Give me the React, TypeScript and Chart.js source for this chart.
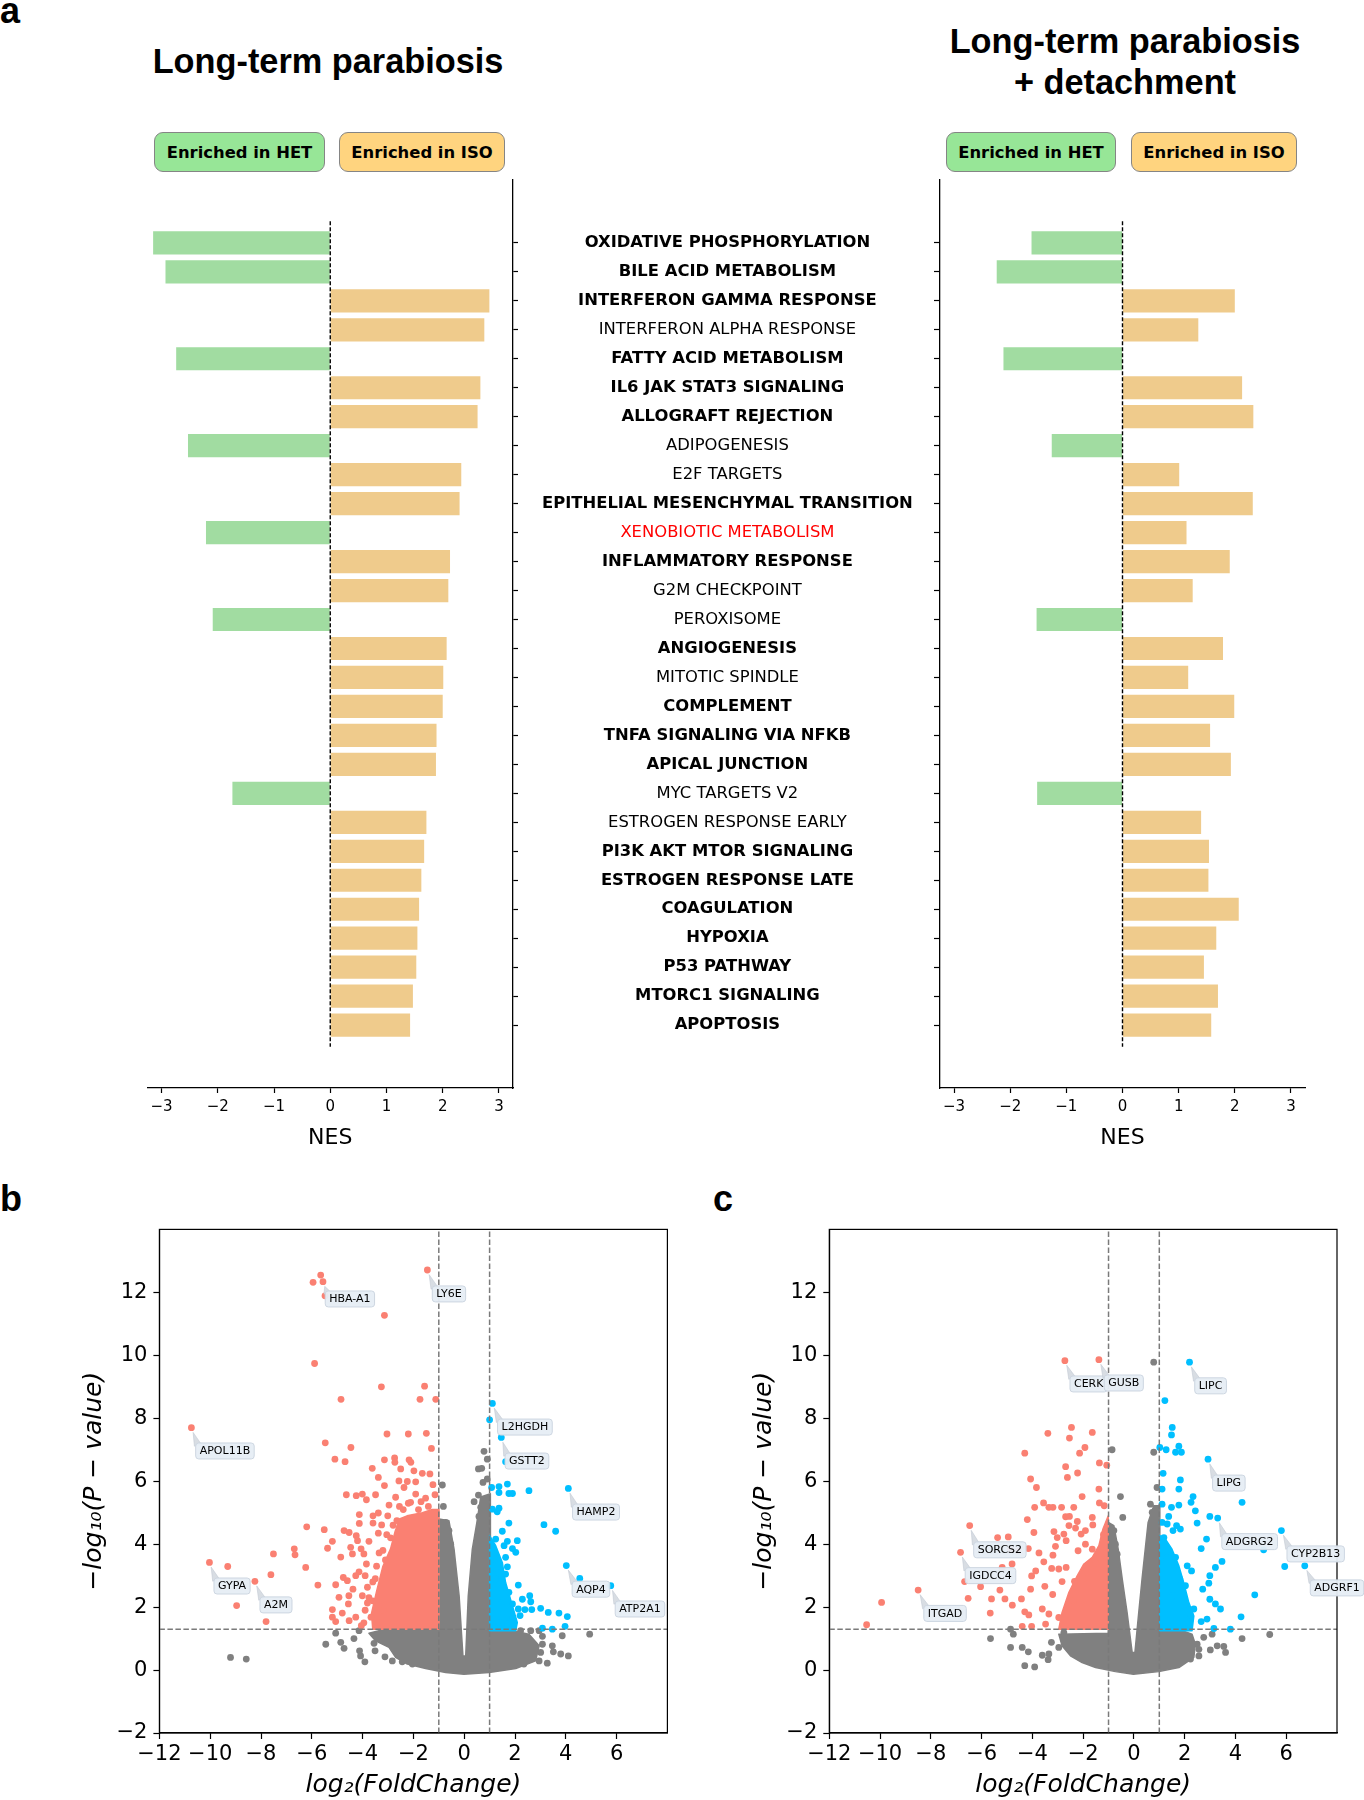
import React, { useEffect, useRef } from 'react';
import { Chart, registerables } from 'chart.js';

Chart.register(...registerables);

const SANS = "'DejaVu Sans', 'Noto Sans', sans-serif";
const HEAD = "'Liberation Sans', Arial, sans-serif";
Chart.defaults.font.family = SANS;
Chart.defaults.color = '#000';

// ---------------- Panel a: GSEA NES ----------------
const pathways = [
  'OXIDATIVE PHOSPHORYLATION', 'BILE ACID METABOLISM', 'INTERFERON GAMMA RESPONSE', 'INTERFERON ALPHA RESPONSE',
  'FATTY ACID METABOLISM', 'IL6 JAK STAT3 SIGNALING', 'ALLOGRAFT REJECTION', 'ADIPOGENESIS', 'E2F TARGETS',
  'EPITHELIAL MESENCHYMAL TRANSITION', 'XENOBIOTIC METABOLISM', 'INFLAMMATORY RESPONSE', 'G2M CHECKPOINT',
  'PEROXISOME', 'ANGIOGENESIS', 'MITOTIC SPINDLE', 'COMPLEMENT', 'TNFA SIGNALING VIA NFKB', 'APICAL JUNCTION',
  'MYC TARGETS V2', 'ESTROGEN RESPONSE EARLY', 'PI3K AKT MTOR SIGNALING', 'ESTROGEN RESPONSE LATE',
  'COAGULATION', 'HYPOXIA', 'P53 PATHWAY', 'MTORC1 SIGNALING', 'APOPTOSIS',
];
const pathwayBold = [1, 1, 1, 0, 1, 1, 1, 0, 0, 1, 0, 1, 0, 0, 1, 0, 1, 1, 1, 0, 0, 1, 1, 1, 1, 1, 1, 1];
const pathwayHighlight = ['XENOBIOTIC METABOLISM'];
const nesLongTerm = [
  -3.15, -2.93, 2.83, 2.74, -2.74, 2.67, 2.62, -2.53, 2.33, 2.30, -2.21, 2.13, 2.10, -2.09,
  2.07, 2.01, 2.00, 1.89, 1.88, -1.74, 1.71, 1.67, 1.62, 1.58, 1.55, 1.53, 1.47, 1.42,
];
const nesDetachment = [
  -1.62, -2.24, 2.00, 1.35, -2.12, 2.13, 2.33, -1.26, 1.01, 2.32, 1.14, 1.91, 1.25, -1.53,
  1.79, 1.17, 1.99, 1.56, 1.93, -1.52, 1.40, 1.54, 1.53, 2.07, 1.67, 1.45, 1.70, 1.58,
];
const nesTicks = [-3, -2, -1, 0, 1, 2, 3];
const nesRange = [-3.25, 3.25];
const rowRange = [-2.17, 29.17];
const zeroLineSpan = [-0.75, 27.75];

// ---------------- Panels b / c: volcano ----------------
const fcTicks = [-12, -10, -8, -6, -4, -2, 0, 2, 4, 6];
const pTicks = [-2, 0, 2, 4, 6, 8, 10, 12];
const fcRange = [-12, 8];
const pRange = [-2, 14];
const fcCutoffs = [-1, 1];
const pCutoff = 1.3;

const bDown = [
  [-5.65, 12.55], [-5.95, 12.32], [-5.56, 12.34], [-5.48, 11.89], [-1.45, 12.71], [-3.14, 11.27], [-5.89, 9.74],
  [-3.26, 9.0], [-1.56, 9.02], [-4.85, 8.6], [-1.74, 8.6], [-1.12, 8.6], [-10.74, 7.7], [-3.04, 7.5], [-2.2, 7.5],
  [-1.49, 7.52], [-5.47, 7.22], [-4.46, 7.07], [-1.29, 7.04], [-5.09, 6.7], [-4.69, 6.62], [-3.14, 6.68],
  [-2.74, 6.74], [-2.73, 6.6], [-2.17, 6.68], [-2.1, 6.6], [-3.62, 6.41], [-2.5, 6.39], [-1.98, 6.33],
  [-1.65, 6.25], [-1.35, 6.23], [-3.38, 6.12], [-2.57, 6.01], [-2.24, 5.99], [-1.91, 5.98], [-3.14, 5.86],
  [-2.37, 5.8], [-1.23, 5.89], [-4.64, 5.57], [-4.25, 5.54], [-4.01, 5.59], [-3.85, 5.41], [-3.49, 5.57],
  [-2.7, 5.49], [-1.91, 5.59], [-1.52, 5.46], [-1.15, 5.57], [-2.96, 5.24], [-2.11, 5.33], [-1.41, 5.2],
  [-4.13, 4.94], [-3.59, 4.9], [-3.38, 4.99], [-3.01, 4.9], [-4.13, 4.66], [-3.59, 4.67], [-3.25, 4.61],
  [-6.2, 4.55], [-5.51, 4.46], [-4.73, 4.43], [-4.53, 4.37], [-4.25, 4.27], [-3.75, 4.09], [-3.38, 4.35],
  [-5.19, 4.09], [-4.2, 4.11], [-4.47, 3.9], [-4.06, 3.85], [-6.69, 3.85], [-5.38, 3.87], [-6.66, 3.66],
  [-7.51, 3.69], [-4.86, 3.59], [-4.4, 3.69], [-3.95, 3.69], [-3.35, 3.72], [-10.03, 3.42], [-9.31, 3.29],
  [-6.24, 3.26], [-7.61, 3.03], [-8.24, 2.82], [-3.85, 3.37], [-4.14, 3.12], [-4.76, 2.94], [-4.27, 3.0],
  [-3.9, 3.0], [-5.06, 2.71], [-4.6, 2.84], [-5.76, 2.7], [-4.38, 2.57], [-3.81, 2.63], [-4.93, 2.31],
  [-4.54, 2.36], [-4.01, 2.36], [-5.19, 1.92], [-4.8, 1.81], [-4.56, 2.1], [-3.81, 2.13], [-5.19, 1.68],
  [-5.06, 1.54], [-4.53, 1.57], [-4.27, 1.68], [-4.05, 1.41], [-3.67, 1.68], [-8.96, 2.05], [-7.8, 1.54],
  [-2.9, 4.2], [-3.1, 3.5], [-3.5, 2.9], [-3.6, 2.2], [-3.2, 1.9], [-3.4, 1.5], [-1.8, 5.1], [-2.4, 5.1],
  [-1.3, 4.95], [-2.65, 4.75], [-2.8, 4.6], [-2.55, 5.2], [-2.2, 5.3], [-1.7, 5.35], [-3.05, 4.3], [-3.2, 3.8],
  [-3.45, 3.3], [-3.6, 2.8], [-3.75, 2.3], [-3.9, 1.9], [-3.95, 1.5],
];
const bUp = [
  [1.11, 8.47], [1.0, 7.95], [1.46, 7.39], [1.63, 6.62], [4.1, 5.77], [1.7, 5.91], [1.37, 5.83], [1.37, 5.64],
  [1.76, 5.61], [1.9, 5.61], [2.55, 5.7], [1.08, 5.8], [1.11, 5.11], [1.3, 5.03], [1.37, 5.14], [1.76, 4.67],
  [3.14, 4.62], [3.6, 4.41], [1.5, 4.41], [1.24, 4.16], [1.7, 4.09], [2.09, 4.11], [1.57, 3.95], [1.9, 3.86],
  [2.03, 3.74], [1.63, 3.58], [1.21, 3.52], [4.02, 3.32], [4.55, 2.91], [5.77, 2.68], [1.7, 3.28], [1.34, 3.1],
  [1.63, 3.05], [1.24, 2.89], [2.13, 2.7], [1.44, 2.57], [1.76, 2.47], [2.29, 2.25], [2.58, 2.36], [2.62, 2.17],
  [3.01, 1.96], [3.31, 1.83], [3.73, 1.81], [4.06, 1.7], [2.13, 1.94], [2.39, 1.92], [2.66, 1.92], [1.9, 1.67],
  [2.2, 1.73], [3.08, 1.33], [3.47, 1.3], [3.97, 1.39], [1.37, 1.51], [1.7, 1.46], [1.5, 2.15], [1.9, 2.1],
];
const bNs = [
  [-0.86, 5.88], [-0.82, 5.2], [-0.73, 4.69], [-0.6, 4.43], [-0.53, 4.0], [0.78, 6.95], [0.91, 6.7], [0.69, 6.41],
  [0.56, 6.39], [0.74, 5.96], [0.91, 6.07], [0.56, 5.56], [0.39, 5.35], [0.65, 5.17], [0.58, 4.88],
  [-5.06, 1.17], [-5.45, 0.82], [-4.86, 0.88], [-4.73, 0.69], [-4.34, 1.0], [-4.14, 1.25], [-4.12, 0.61],
  [-4.08, 0.45], [-3.91, 0.26], [-3.55, 0.85], [-3.51, 0.61], [-3.12, 0.42], [-2.83, 0.29], [-9.2, 0.4],
  [-8.58, 0.35], [2.22, 1.25], [2.62, 1.25], [2.95, 1.25], [3.08, 1.07], [3.08, 0.82], [3.47, 0.77],
  [3.86, 1.09], [4.94, 1.14], [3.51, 0.58], [3.8, 0.51], [4.1, 0.45], [3.01, 0.56], [2.95, 0.29], [3.27, 0.22],
  [2.35, 0.19], [1.96, 0.24], [-2.44, 0.26], [-2.04, 0.19],
];
// dense (overplotted) cores, outlined in data units
const bNsCore = [
  [-0.01, -0.13], [-0.73, -0.08], [-1.52, 0.05], [-2.24, 0.19], [-2.7, 0.4], [-2.96, 0.72], [-3.49, 0.93],
  [-3.75, 1.17], [-3.35, 1.25], [-0.99, 1.25], [-0.99, 4.8], [-0.6, 4.74], [-0.4, 3.84], [-0.2, 2.36],
  [-0.05, 0.45], [0.06, 0.45], [0.16, 2.36], [0.32, 3.84], [0.5, 4.69], [0.65, 5.5], [1.03, 5.6], [1.04, 1.25],
  [1.9, 1.25], [2.55, 1.14], [2.95, 0.77], [2.81, 0.29], [2.03, 0.05], [0.98, -0.08],
];
const bDownCore = [
  [-0.99, 1.3], [-3.6, 1.3], [-3.65, 1.8], [-3.45, 2.5], [-3.2, 3.3], [-2.9, 3.85], [-2.72, 4.4],
  [-2.55, 4.8], [-2.25, 4.9], [-1.65, 5.0], [-1.26, 5.1], [-0.99, 5.1],
];
const bUpCore = [[1.0, 1.25], [2.03, 1.25], [2.09, 1.51], [1.9, 2.04], [1.63, 2.78], [1.5, 3.42], [1.24, 3.95], [1.0, 4.27]];
const bGenes = ['HBA-A1', 'LY6E', 'APOL11B', 'L2HGDH', 'GSTT2', 'HAMP2', 'GYPA', 'A2M', 'AQP4', 'ATP2A1'];
const bGenePoint = [[-5.56, 12.34], [-1.45, 12.71], [-10.74, 7.7], [1.11, 8.47], [1.46, 7.39], [4.1, 5.77], [-10.03, 3.42], [-8.24, 2.82], [4.02, 3.32], [5.77, 2.68]];
const bGeneLabelAt = [[-4.5, 11.79], [-0.6, 11.95], [-9.42, 6.96], [2.39, 7.72], [2.47, 6.64], [5.19, 5.02], [-9.14, 2.67], [-7.41, 2.07], [4.99, 2.57], [6.92, 1.94]];

const cDown = [
  [-2.72, 9.83], [-1.38, 9.86], [-3.39, 7.52], [-2.46, 7.71], [-2.54, 7.37], [-1.64, 7.55], [-4.3, 6.89],
  [-1.93, 7.07], [-2.14, 6.89], [-1.36, 6.58], [-1.07, 6.51], [-2.69, 6.46], [-2.62, 6.12], [-2.22, 6.26],
  [-4.07, 6.07], [-3.84, 5.8], [-2.04, 5.51], [-1.38, 5.75], [-3.56, 5.31], [-3.35, 5.17], [-3.19, 5.17],
  [-2.85, 5.17], [-2.37, 5.17], [-3.91, 5.17], [-1.36, 5.31], [-1.17, 5.22], [-2.69, 4.87], [-2.54, 4.88],
  [-2.23, 4.72], [-1.64, 4.85], [-4.2, 4.78], [-2.56, 4.59], [-2.3, 4.51], [-1.91, 4.43], [-1.62, 4.61],
  [-3.15, 4.4], [-2.76, 4.32], [-3.94, 4.37], [-2.08, 4.32], [-6.47, 4.59], [-5.37, 4.21], [-4.95, 4.23],
  [-4.86, 3.84], [-4.57, 3.79], [-4.16, 3.86], [-3.02, 4.21], [-3.09, 3.93], [-2.67, 4.11], [-2.2, 3.79],
  [-1.91, 4.0], [-1.64, 3.84], [-3.74, 3.72], [-3.19, 3.65], [-6.83, 3.74], [-3.55, 3.44], [-5.19, 3.26],
  [-4.8, 3.37], [-3.24, 3.23], [-2.96, 3.21], [-2.67, 3.26], [-3.87, 3.15], [-6.67, 2.81], [-6.04, 2.65],
  [-5.28, 2.54], [-4.03, 2.99], [-4.07, 2.57], [-3.51, 2.66], [-2.83, 2.81], [-2.34, 2.82], [-8.5, 2.54],
  [-9.94, 2.15], [-10.53, 1.44], [-6.53, 2.28], [-5.61, 2.26], [-5.08, 2.26], [-4.43, 2.26], [-4.79, 2.06],
  [-4.3, 1.85], [-5.66, 1.81], [-4.14, 1.75], [-3.61, 1.94], [-3.35, 1.78], [-2.96, 1.67], [-4.4, 1.39],
  [-4.03, 1.39], [-3.48, 1.46], [-1.2, 4.3], [-1.5, 3.4], [-2.4, 2.2], [-2.7, 1.6], [-3.2, 2.4], [-2.0, 2.9],
  [-1.3, 3.6],
];
const cUp = [
  [2.19, 9.78], [1.22, 8.56], [1.51, 7.71], [1.48, 7.47], [1.02, 7.07], [1.27, 7.0], [1.77, 7.11], [1.64, 6.92],
  [1.87, 6.92], [2.92, 6.7], [1.15, 6.25], [1.83, 6.04], [1.11, 5.75], [1.77, 5.75], [2.33, 5.51], [4.26, 5.33],
  [2.25, 5.33], [1.11, 5.27], [1.48, 5.17], [1.77, 5.24], [2.42, 5.06], [2.99, 4.88], [3.3, 4.83], [2.49, 4.67],
  [1.37, 4.88], [1.11, 4.69], [1.31, 4.64], [1.68, 4.59], [1.83, 4.48], [1.54, 4.43], [1.18, 4.21], [5.81, 4.43],
  [2.86, 4.16], [2.65, 3.86], [5.11, 3.82], [5.94, 3.29], [6.73, 3.31], [3.47, 3.45], [3.21, 3.26], [2.99, 3.0],
  [2.95, 2.76], [2.71, 2.57], [4.76, 2.39], [2.1, 3.31], [2.27, 3.15], [1.64, 3.58], [1.31, 3.58], [1.81, 2.89],
  [2.03, 2.68], [1.51, 2.36], [2.99, 2.25], [3.21, 2.1], [3.41, 1.94], [2.36, 1.94], [2.23, 1.73], [2.65, 1.54],
  [2.88, 1.62], [4.22, 1.69], [3.8, 1.3], [3.15, 1.32], [1.9, 1.36],
];
const cNs = [
  [0.78, 9.78], [-0.86, 7.0], [0.78, 6.92], [-0.53, 5.51], [-0.44, 4.85], [0.91, 5.8], [0.65, 5.27], [0.72, 5.01],
  [-0.79, 4.43], [-0.73, 4.0], [-0.66, 3.68], [-4.86, 1.3], [-4.75, 1.14], [-5.65, 1.0], [-4.86, 0.72],
  [-4.4, 0.72], [-4.16, 0.58], [-4.3, 0.14], [-3.91, 0.1], [-3.61, 0.47], [-3.35, 0.51], [-3.38, 0.33],
  [-3.25, 0.88], [-2.96, 0.72], [-2.76, 1.19], [2.75, 1.04], [3.08, 1.14], [2.49, 0.82], [2.56, 0.66],
  [3.01, 0.64], [3.28, 0.77], [3.54, 0.75], [3.61, 0.56], [4.26, 1.0], [5.35, 1.13], [2.23, 0.35], [2.56, 0.45],
];
const cNsCore = [
  [-0.02, -0.13], [-0.73, -0.05], [-1.51, 0.08], [-2.04, 0.24], [-2.5, 0.45], [-2.83, 0.77], [-2.96, 1.14],
  [-1.01, 1.17], [-1.01, 4.69], [-0.79, 4.59], [-0.62, 3.84], [-0.46, 2.89], [-0.27, 1.83], [-0.07, 0.56],
  [0.04, 0.56], [0.19, 1.83], [0.32, 2.89], [0.46, 3.95], [0.56, 4.69], [0.78, 5.22], [1.02, 5.22],
  [1.02, 1.25], [1.9, 1.25], [2.29, 1.14], [2.42, 0.82], [2.36, 0.4], [1.77, 0.08], [0.98, -0.05],
];
const cDownCore = [
  [-1.01, 1.3], [-2.96, 1.3], [-2.83, 1.83], [-2.56, 2.47], [-2.23, 3.0], [-1.97, 3.37], [-1.64, 3.58],
  [-1.38, 3.95], [-1.22, 4.48], [-1.01, 4.9],
];
const cUpCore = [[1.02, 1.25], [2.29, 1.25], [2.36, 1.72], [2.16, 2.15], [1.96, 2.78], [1.77, 3.31], [1.5, 3.84], [1.24, 4.16], [1.02, 4.27]];
const cGenes = ['CERK', 'GUSB', 'LIPC', 'LIPG', 'ADGRG2', 'CYP2B13', 'ADGRF1', 'SORCS2', 'IGDCC4', 'ITGAD'];
const cGenePoint = [[-2.72, 9.83], [-1.38, 9.86], [2.19, 9.78], [2.92, 6.7], [3.3, 4.83], [5.81, 4.43], [6.73, 3.31], [-6.47, 4.59], [-6.83, 3.74], [-8.5, 2.54]];
const cGeneLabelAt = [[-1.78, 9.09], [-0.4, 9.12], [3.02, 9.03], [3.74, 5.94], [4.56, 4.08], [7.16, 3.69], [8.0, 2.61], [-5.28, 3.82], [-5.65, 3.0], [-7.44, 1.8]];

// ---------------- styling ----------------
const HET_BAR = '#A1DCA1';
const ISO_BAR = '#EFCB8C';
const HET_BOX = '#97E697';
const ISO_BOX = '#FFD47F';
const DOWN_C = '#FA8072';
const UP_C = '#00BFFF';
const NS_C = '#808080';

const fmtTick = (v: number) => (v < 0 ? '\u2212' + Math.abs(v) : String(v));
const noAxisPadding = (s: any) => {
  s.paddingTop = 0;
  s.paddingBottom = 0;
  s.paddingLeft = 0;
  s.paddingRight = 0;
};

function NesChart({ values, side }: { values: number[]; side: 'left' | 'right' }) {
  const ref = useRef<HTMLCanvasElement | null>(null);
  const isLeft = side === 'left';
  const W = isLeft ? 940 : 439;
  const H = 1000;
  const L = isLeft ? 0 : 925;
  const TOP = 170;
  useEffect(() => {
    const chart = new Chart(ref.current as HTMLCanvasElement, {
      type: 'bar',
      data: {
        datasets: [
          {
            type: 'line', data: zeroLineSpan.map((v) => ({ x: 0, y: v })), borderColor: '#000', borderWidth: 1.4,
            borderDash: [4, 2], pointRadius: 0, order: 0, indexAxis: 'y',
          } as any,
          {
            type: 'bar', data: values.map((v, i) => ({ x: v, y: i })),
            backgroundColor: values.map((v) => (v < 0 ? HET_BAR : ISO_BAR)),
            barPercentage: 0.8, categoryPercentage: 1, order: 1,
          } as any,
        ],
      },
      options: {
        indexAxis: 'y',
        responsive: false,
        animation: false,
        devicePixelRatio: 1,
        layout: { padding: isLeft ? { left: 147.5, right: 5, top: 10, bottom: 12 } : { left: 9, right: 59, top: 10, bottom: 12 } },
        plugins: { legend: { display: false }, tooltip: { enabled: false } },
        scales: {
          x: {
            type: 'linear', position: 'bottom', min: nesRange[0], max: nesRange[1], offset: false,
            afterBuildTicks: (s: any) => { s.ticks = nesTicks.map((v) => ({ value: v })); },
            ticks: { callback: (v: any) => fmtTick(Number(v)), color: '#000', font: { size: 15 }, padding: 5, maxRotation: 0, autoSkip: false },
            grid: { display: true, drawOnChartArea: false, drawTicks: true, tickLength: 5, tickColor: '#000', tickWidth: 1.2, offset: false },
            border: { display: true, color: '#000', width: 1.3 },
            title: { display: true, text: 'NES', color: '#000', font: { size: 22 }, padding: { top: 0, bottom: 7 } },
            afterFit: (s: any) => { s.height = 70; noAxisPadding(s); },
          },
          y: {
            type: 'linear', reverse: true, min: rowRange[0], max: rowRange[1], position: isLeft ? 'right' : 'left', offset: false,
            afterBuildTicks: (s: any) => { s.ticks = pathways.map((_, i) => ({ value: i })); },
            ticks: isLeft
              ? {
                  display: true, autoSkip: false, crossAlign: 'center', padding: 24,
                  callback: (v: any) => pathways[Number(v)] ?? '',
                  font: (c: any) => ({ family: SANS, size: 16.4, weight: pathwayBold[c.index] ? 'bold' : 'normal' }),
                  color: (c: any) => (pathwayHighlight.includes(pathways[c.index]) ? '#FF0000' : '#000'),
                }
              : { display: false },
            grid: { display: true, drawOnChartArea: false, drawTicks: true, tickLength: isLeft ? 5 : 6, tickColor: '#000', tickWidth: 1.2, offset: false },
            border: { display: true, color: '#000', width: 1.3 },
            afterFit: (s: any) => { s.width = isLeft ? 422 : 6; noAxisPadding(s); },
          },
        },
      } as any,
    });
    return () => chart.destroy();
  }, []);
  return <canvas ref={ref} width={W} height={H} style={{ position: 'absolute', left: L, top: TOP, width: W, height: H }} />;
}

function Volcano(props: {
  left: number; width: number; down: number[][]; up: number[][]; ns: number[][];
  cores: { pts: number[][]; color: string }[]; genes: string[]; genePoint: number[][]; geneAt: number[][];
  rightPad: number; yAxisW: number;
}) {
  const ref = useRef<HTMLCanvasElement | null>(null);
  const H = 585;
  const TOP = 1215;
  useEffect(() => {
    const pts = (a: number[][]) => a.map(([x, y]) => ({ x, y }));
    const dashed = (data: any[]) => ({
      data, showLine: true, borderColor: '#7a7a7a', borderWidth: 1.5, borderDash: [5.5, 2.5], pointRadius: 0, order: 0,
    });
    const dots = (data: number[][], color: string, order: number) => ({
      data: pts(data), backgroundColor: color, borderWidth: 0, pointRadius: 3.4, pointHoverRadius: 3.4, order,
    });
    const corePlugin = {
      id: 'cores',
      beforeDatasetsDraw(chart: any) {
        const { ctx, chartArea: a, scales: { x, y } } = chart;
        ctx.save();
        ctx.beginPath();
        ctx.rect(a.left, a.top, a.right - a.left, a.bottom - a.top);
        ctx.clip();
        for (const c of props.cores) {
          ctx.beginPath();
          c.pts.forEach(([vx, vy], i) => {
            const px = x.getPixelForValue(vx);
            const py = y.getPixelForValue(vy);
            if (i) ctx.lineTo(px, py); else ctx.moveTo(px, py);
          });
          ctx.closePath();
          ctx.fillStyle = c.color;
          ctx.strokeStyle = c.color;
          ctx.lineWidth = 1.5;
          ctx.lineJoin = 'round';
          ctx.fill();
          ctx.stroke();
        }
        ctx.restore();
      },
    };
    const framePlugin = {
      id: 'frame',
      afterDraw(chart: any) {
        const { ctx, chartArea: a } = chart;
        ctx.save();
        ctx.strokeStyle = '#000';
        ctx.lineWidth = 1.2;
        ctx.strokeRect(a.left, a.top, a.right - a.left, a.bottom - a.top);
        ctx.restore();
      },
    };
    const labelPlugin = {
      id: 'geneLabels',
      afterDraw(chart: any) {
        const { ctx, scales: { x, y } } = chart;
        ctx.save();
        ctx.font = `11px ${SANS}`;
        props.genes.forEach((g, i) => {
          const px = x.getPixelForValue(props.genePoint[i][0]);
          const py = y.getPixelForValue(props.genePoint[i][1]);
          const cx = x.getPixelForValue(props.geneAt[i][0]);
          const cy = y.getPixelForValue(props.geneAt[i][1]);
          const w = ctx.measureText(g).width + 8;
          const h = 16;
          const bx = cx - w / 2;
          const by = cy - h / 2;
          const ax = Math.min(Math.max(px, bx + 2), bx + w - 2);
          const ay = Math.min(Math.max(py, by + 2), by + h - 2);
          const dx = px - ax;
          const dy = py - ay;
          const d = Math.hypot(dx, dy);
          if (d > 8) {
            const ux = dx / d;
            const uy = dy / d;
            const tx = px - ux * 5;
            const ty = py - uy * 5;
            const nx = -uy;
            const ny = ux;
            ctx.beginPath();
            ctx.moveTo(tx, ty);
            ctx.lineTo(ax + nx * 3.5, ay + ny * 3.5);
            ctx.lineTo(ax - nx * 3.5, ay - ny * 3.5);
            ctx.closePath();
            ctx.fillStyle = 'rgba(214,219,226,0.95)';
            ctx.fill();
            ctx.strokeStyle = 'rgba(190,198,208,0.9)';
            ctx.lineWidth = 0.6;
            ctx.stroke();
          }
          ctx.beginPath();
          (ctx as any).roundRect(bx, by, w, h, 3);
          ctx.fillStyle = 'rgba(230,237,244,0.95)';
          ctx.fill();
          ctx.strokeStyle = 'rgba(205,214,225,1)';
          ctx.lineWidth = 1;
          ctx.stroke();
          ctx.fillStyle = '#000';
          ctx.textAlign = 'center';
          ctx.textBaseline = 'middle';
          ctx.fillText(g, cx, cy + 0.5);
        });
        ctx.restore();
      },
    };
    const chart = new Chart(ref.current as HTMLCanvasElement, {
      type: 'scatter',
      data: {
        datasets: [
          dashed([{ x: fcCutoffs[0], y: pRange[0] }, { x: fcCutoffs[0], y: pRange[1] }]),
          dashed([{ x: fcCutoffs[1], y: pRange[0] }, { x: fcCutoffs[1], y: pRange[1] }]),
          dashed([{ x: fcRange[0], y: pCutoff }, { x: fcRange[1], y: pCutoff }]),
          dots(props.up, UP_C, 1),
          dots(props.down, DOWN_C, 2),
          dots(props.ns, NS_C, 3),
        ] as any,
      },
      options: {
        responsive: false,
        animation: false,
        devicePixelRatio: 1,
        layout: { padding: { left: 0, right: props.rightPad, top: 14.4, bottom: 0 } },
        plugins: { legend: { display: false }, tooltip: { enabled: false } },
        scales: {
          x: {
            type: 'linear', min: fcRange[0], max: fcRange[1],
            afterBuildTicks: (s: any) => { s.ticks = fcTicks.map((v) => ({ value: v })); },
            ticks: { callback: (v: any) => fmtTick(Number(v)), color: '#000', font: { size: 21 }, padding: 3, maxRotation: 0, autoSkip: false },
            grid: { display: true, drawOnChartArea: false, drawTicks: true, tickLength: 6, tickColor: '#000', tickWidth: 1.2 },
            border: { display: true, color: '#000', width: 1.2 },
            title: { display: true, text: 'log\u2082(FoldChange)', color: '#000', font: { size: 25, style: 'italic' }, padding: { top: 0, bottom: 0 } },
            afterFit: (s: any) => { s.height = 67; noAxisPadding(s); },
          },
          y: {
            type: 'linear', min: pRange[0], max: pRange[1],
            afterBuildTicks: (s: any) => { s.ticks = pTicks.map((v) => ({ value: v })); },
            ticks: { callback: (v: any) => fmtTick(Number(v)), color: '#000', font: { size: 21 }, padding: 6, autoSkip: false },
            grid: { display: true, drawOnChartArea: false, drawTicks: true, tickLength: 6, tickColor: '#000', tickWidth: 1.2 },
            border: { display: true, color: '#000', width: 1.2 },
            title: { display: true, text: '\u2212log\u2081\u2080(P \u2212 value)', color: '#000', font: { size: 25, style: 'italic' }, padding: { top: 15, bottom: 0 } },
            afterFit: (s: any) => { s.width = props.yAxisW; noAxisPadding(s); },
          },
        },
      } as any,
      plugins: [corePlugin, framePlugin, labelPlugin],
    });
    return () => chart.destroy();
  }, []);
  return <canvas ref={ref} width={props.width} height={H} style={{ position: 'absolute', left: props.left, top: TOP, width: props.width, height: H }} />;
}

function Txt({ x, base, size, family, bold, align, children }: any) {
  const centered = align === 'center';
  return (
    <div
      style={{
        position: 'absolute', left: centered ? x - 400 : x, top: base - 0.846 * size, width: centered ? 800 : undefined,
        textAlign: centered ? 'center' : 'left', fontFamily: family, fontSize: size, fontWeight: bold ? 'bold' : 'normal',
        lineHeight: `${size}px`, whiteSpace: 'nowrap', color: '#000',
      }}
    >
      {children}
    </div>
  );
}

function LegendBox({ x, w, bg, text }: any) {
  return (
    <div
      style={{
        position: 'absolute', left: x, top: 132, width: w, height: 40, boxSizing: 'border-box',
        border: '1.5px solid #858585', borderRadius: 9, background: bg, display: 'flex', alignItems: 'center',
        justifyContent: 'center', fontFamily: SANS, fontWeight: 'bold', fontSize: 16.4, color: '#000', whiteSpace: 'nowrap',
      }}
    >
      {text}
    </div>
  );
}

export default function App() {
  return (
    <div style={{ position: 'absolute', left: 0, top: 0, width: 1364, height: 1800, background: '#fff', overflow: 'hidden' }}>
      <Txt x={0} base={23} size={36} family={HEAD} bold>a</Txt>
      <Txt x={328} base={73} size={34.3} family={HEAD} bold align="center">Long-term parabiosis</Txt>
      <Txt x={1125} base={53.5} size={34.3} family={HEAD} bold align="center">Long-term parabiosis</Txt>
      <Txt x={1125} base={94} size={34.3} family={HEAD} bold align="center">+ detachment</Txt>
      <LegendBox x={154} w={171} bg={HET_BOX} text="Enriched in HET" />
      <LegendBox x={339} w={166} bg={ISO_BOX} text="Enriched in ISO" />
      <LegendBox x={946} w={170} bg={HET_BOX} text="Enriched in HET" />
      <LegendBox x={1131} w={166} bg={ISO_BOX} text="Enriched in ISO" />
      <NesChart values={nesLongTerm} side="left" />
      <NesChart values={nesDetachment} side="right" />
      <Txt x={0} base={1211.5} size={36} family={HEAD} bold>b</Txt>
      <Txt x={713} base={1211} size={36} family={HEAD} bold>c</Txt>
      <Volcano
        left={64} width={616} rightPad={12.6} yAxisW={95.4}
        down={bDown} up={bUp} ns={bNs}
        cores={[{ pts: bNsCore, color: NS_C }, { pts: bDownCore, color: DOWN_C }, { pts: bUpCore, color: UP_C }]}
        genes={bGenes} genePoint={bGenePoint} geneAt={bGeneLabelAt}
      />
      <Volcano
        left={734} width={630} rightPad={27} yAxisW={95.3}
        down={cDown} up={cUp} ns={cNs}
        cores={[{ pts: cNsCore, color: NS_C }, { pts: cDownCore, color: DOWN_C }, { pts: cUpCore, color: UP_C }]}
        genes={cGenes} genePoint={cGenePoint} geneAt={cGeneLabelAt}
      />
    </div>
  );
}
